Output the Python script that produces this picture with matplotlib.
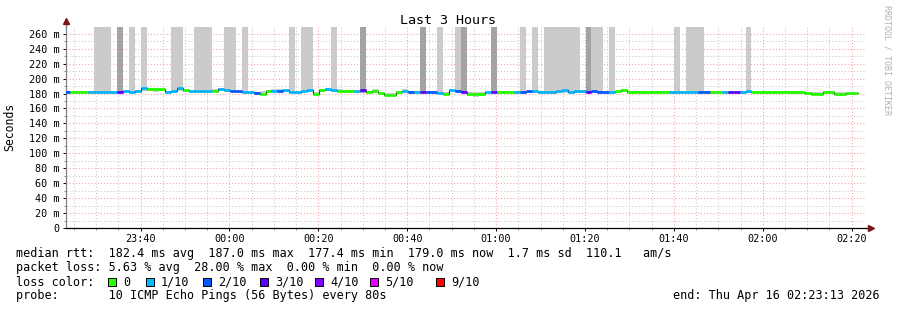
import matplotlib
matplotlib.use('Agg')
import matplotlib.pyplot as plt
import matplotlib.dates as mdates
from matplotlib.patches import Rectangle
from matplotlib.ticker import MultipleLocator, FuncFormatter
from datetime import datetime, timedelta
import numpy as np

plt.rcParams['font.family'] = ['DejaVu Sans Mono']

# ---- data (one value per 80 s step) ----
end_time = datetime(2026, 4, 16, 2, 23, 13)
first_step = datetime(2026, 4, 15, 23, 22, 47)
step_sec = 80

median = [182, 182, 182, 182, 182, 182, 182, 182, 182, 182,
          183, 182, 184, 187, 185.5, 185.5, 185.5, 182, 183, 187,
          185, 183, 183, 183, 184, 184, 186, 185, 184, 183,
          182, 182, 181, 180, 183, 184, 184, 185, 182, 182,
          183, 185, 180, 185, 186, 185, 184, 183, 183, 183,
          184.5, 182.5, 184, 181, 178, 177.4, 182, 183, 182, 182,
          182, 182, 182, 181, 180, 185, 184, 182, 180, 180,
          180, 182, 182, 182, 182, 182, 182, 182, 183, 184,
          182, 182, 182, 183, 185, 182, 183, 184, 182, 183,
          182, 182, 182, 183, 185, 182, 182, 182, 182, 182,
          182, 182, 182, 182, 182, 182, 182, 182, 182, 182,
          182, 182, 182, 182, 182, 184, 182, 182, 182, 182,
          182, 182, 182, 182, 182, 181, 180, 180, 182, 182,
          180, 180, 181, 181]

loss = [2, 0, 0, 0, 1, 1, 1, 1, 1, 3,
        1, 1, 1, 1, 0, 0, 0, 1, 1, 1,
        0, 1, 1, 1, 1, 0, 1, 1, 2, 2,
        1, 1, 2, 0, 0, 1, 2, 1, 1, 1,
        1, 1, 0, 0, 1, 1, 0, 0, 0, 1,
        3, 0, 0, 0, 0, 0, 0, 1, 2, 1,
        3, 2, 2, 1, 0, 1, 2, 3, 0, 0,
        0, 1, 3, 0, 0, 0, 1, 2, 2, 1,
        1, 1, 1, 1, 1, 1, 1, 1, 3, 2,
        2, 2, 1, 0, 0, 0, 0, 0, 0, 0,
        0, 0, 1, 1, 1, 1, 1, 2, 2, 0,
        0, 1, 3, 3, 1, 1, 0, 0, 0, 0,
        0, 0, 0, 0, 0, 0, 0, 0, 0, 0,
        0, 0, 0, 0]

smoke_lo = [181, 181, 181, 181, 181, 181, 181, 181, 181, 181,
            181, 181, 181, 183, 183, 182, 183, 181, 181, 183,
            182, 181, 181, 181, 181, 182, 183, 182, 182, 181,
            181, 181, 180, 179, 181, 182, 182, 182, 181, 181,
            181, 182, 179, 182, 184, 182, 182, 181, 181, 181,
            181, 181, 181, 179, 176.5, 176, 180, 181, 181, 181,
            181, 181, 181, 179.5, 178.5, 183, 182, 180.5, 176, 175.5,
            178, 181, 181, 181, 181, 181, 181, 181, 181, 181,
            181, 181, 181, 181, 181, 181, 181, 181, 181, 181,
            181, 181, 179, 181, 182, 181, 181, 181, 181, 181,
            181, 181, 181, 181, 181, 181, 181, 181, 181, 181,
            181, 181, 181, 181, 181, 182, 181, 181, 180.5, 180.5,
            180.5, 180.5, 180, 180, 179.5, 178.5, 178, 178, 179, 179,
            178, 177.5, 177.5, 177.5]

smoke_hi = [183, 183, 183, 183, 183, 300, 300, 300, 183, 300,
            185, 300, 185, 300, 187, 187, 187, 183, 300, 300,
            186.5, 184, 300, 300, 300, 185.5, 187, 300, 300, 185,
            300, 183, 182, 183, 184.5, 186, 185.5, 186, 300, 183,
            300, 300, 182, 186.5, 187.5, 300, 185.5, 184.5, 184.5, 184,
            300, 184, 185.5, 182.5, 181, 181, 183.5, 186, 183, 183,
            300, 183, 183, 300, 181.5, 186.5, 300, 300, 181.5, 181.5,
            181.5, 183, 300, 183, 183, 183, 183, 300, 184, 300,
            183, 300, 300, 300, 300, 300, 300, 185, 300, 300,
            300, 183, 300, 184, 186, 183, 183, 183, 183, 183,
            183, 183, 183, 300, 183, 300, 300, 300, 183, 183,
            183, 183, 183, 183, 183, 300, 183, 183, 183, 183,
            183, 183, 183, 183, 183, 182, 181.5, 181.5, 183.5, 183.5,
            181.5, 181.5, 182.5, 182.5]

dark_steps = [9, 50, 60, 67, 72, 88]

loss_levels = [0, 1, 2, 3, 4, 5, 9]
loss_labels = ["0", "1/10", "2/10", "3/10", "4/10", "5/10", "9/10"]
loss_colors = ['#26ff00', '#00b8ff', '#0059ff', '#5e00ff', '#7e00ff', '#dd00ff', '#ff0000']

legend_rows = [
    "median rtt:  182.4 ms avg  187.0 ms max  177.4 ms min  179.0 ms now  1.7 ms sd  110.1   am/s",
    "packet loss: 5.63 % avg  28.00 % max  0.00 % min  0.00 % now",
    "loss color:",
    "probe:       10 ICMP Echo Pings (56 Bytes) every 80s",
]

# ---- figure ----
W, H = 897, 310
fig = plt.figure(figsize=(W / 100, H / 100), dpi=100)
fig.patch.set_facecolor('white')
ax = fig.add_axes([66 / W, (H - 228) / H, 800 / W, 201 / H])

n = len(median)
edges = mdates.date2num([first_step + timedelta(seconds=step_sec * k) for k in range(n + 1)])
left = edges[:-1]
right = edges[1:]
width = right - left

lo = np.array(smoke_lo)
hi = np.array(smoke_hi)
smoke_col = ['#a3a3a3' if k in dark_steps else '#cbcbcb' for k in range(n)]
ax.bar(left, hi - lo, width=width, bottom=lo, align='edge', color=smoke_col, lw=0, zorder=2)

med = np.array(median)
ax.step(edges, np.append(med, med[-1]), where='post', color='#202020', lw=0.8, zorder=3)
line_col = [loss_colors[loss_levels.index(v)] for v in loss]
ax.hlines(med, left, right, colors=line_col, lw=2.0, zorder=4)

start_time = end_time - timedelta(hours=3)
ax.set_xlim(mdates.date2num(start_time), mdates.date2num(end_time))
ax.set_ylim(0, 269)

ax.xaxis.set_major_locator(mdates.MinuteLocator(byminute=[0, 20, 40]))
ax.xaxis.set_minor_locator(mdates.MinuteLocator(byminute=range(0, 60, 5)))
ax.xaxis.set_major_formatter(mdates.DateFormatter('%H:%M'))
ax.yaxis.set_major_locator(MultipleLocator(20))
ax.yaxis.set_minor_locator(MultipleLocator(10))
ax.yaxis.set_major_formatter(FuncFormatter(lambda v, p: '0' if v == 0 else '%d m' % v))

dots = (0, (1, 2))
ax.set_axisbelow(True)
ax.grid(which='minor', color='#c8c8c8', linestyle=dots, lw=0.75)
ax.grid(which='major', color='#f2a0a0', linestyle=dots, lw=0.75)

for s in ['top', 'right']:
    ax.spines[s].set_visible(False)
ax.spines['left'].set_color('#808080')
ax.spines['bottom'].set_color('#000000')
ax.spines['left'].set_linewidth(0.9)
ax.spines['bottom'].set_linewidth(0.9)
ax.tick_params(which='major', length=2.5, width=0.7, labelsize=7.3, colors='#000000', pad=2)
ax.tick_params(axis='x', which='major', pad=1.5)
ax.tick_params(which='minor', length=1.5, width=0.6, color='#808080')

# axis arrows
ax.plot([0, 0], [1, 1.025], color='#808080', lw=0.9, transform=ax.transAxes, clip_on=False)
ax.plot([0], [1.03], marker='^', color='#7f1414', ms=4, transform=ax.transAxes, clip_on=False)
ax.plot([1, 1.004], [0, 0], color='#000000', lw=0.9, transform=ax.transAxes, clip_on=False)
ax.plot([1.006], [0], marker='>', color='#7f1414', ms=4, transform=ax.transAxes, clip_on=False)

# texts
fig.text(448 / W, 1 - 20 / H, 'Last 3 Hours', ha='center', va='center', fontsize=9.6)
fig.text(10 / W, 1 - 127 / H, 'Seconds', rotation=90, ha='center', va='center', fontsize=8.3)
fig.text(887 / W, 1 - 60 / H, 'RRDTOOL / TOBI OETIKER', rotation=270, ha='center', va='center',
         fontsize=6, color='#b0b0b0')

row_y = [254, 268, 282, 296]
for txt, yy in zip(legend_rows, row_y):
    fig.text(16 / W, 1 - yy / H, txt, ha='left', va='center', fontsize=8.5)

box_x = [108, 146, 203, 260, 315, 370, 436]
for bx, lab, col in zip(box_x, loss_labels, loss_colors):
    fig.patches.append(Rectangle((bx / W, 1 - 286 / H), 8 / W, 8 / H, transform=fig.transFigure,
                                 facecolor=col, edgecolor='black', lw=0.7))
    fig.text((bx + 15) / W, 1 - 282 / H, lab, ha='left', va='center', fontsize=8.5)

fig.text(880 / W, 1 - 296 / H, 'end: Thu Apr 16 02:23:13 2026', ha='right', va='center', fontsize=8.5)

fig.savefig('out.png', dpi=100)
